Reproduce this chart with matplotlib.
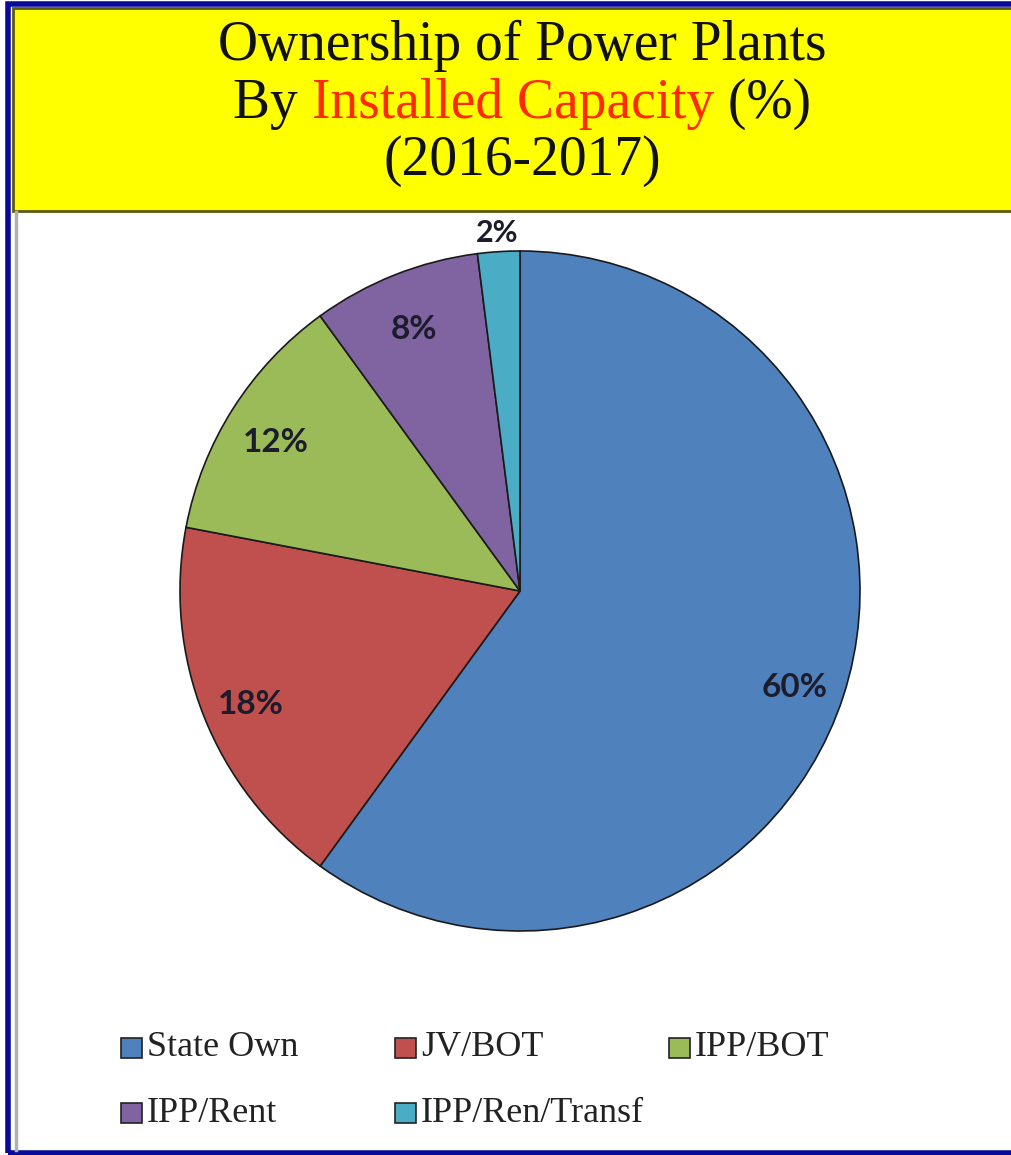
import matplotlib
matplotlib.use("Agg")
import matplotlib.pyplot as plt
import matplotlib.patches as patches
import numpy as np

# Ownership shares by installed capacity, 2016-2017
owners = ['State Own', 'JV/BOT', 'IPP/BOT', 'IPP/Rent', 'IPP/Ren/Transf']
shares = [60, 18, 12, 8, 2]
colors = ['#4F81BD', '#C0504D', '#9BBB59', '#8064A2', '#4BACC6']

W, H = 1011, 1155
fig = plt.figure(figsize=(W / 100, H / 100), dpi=100)
fig.patch.set_facecolor('white')

def fx(px):
    return px / W

def fy(py):
    return 1 - py / H

# frame: blue border on left, top and bottom, grey shadow inside
fig.add_artist(patches.Rectangle((fx(8), fy(1153)), fx(1100), fy(4) - fy(1153),
                                 transform=fig.transFigure, facecolor='none',
                                 edgecolor='#0a0a9a', linewidth=4))
fig.add_artist(plt.Line2D([fx(16), fx(16)], [fy(212), fy(1150)],
                          transform=fig.transFigure, color='#b0b0b0', linewidth=2.5))

# yellow title band
fig.add_artist(patches.Rectangle((fx(13), fy(211)), fx(1010), fy(8) - fy(211),
                                 transform=fig.transFigure, facecolor='#FFFF00',
                                 edgecolor='#5a5a10', linewidth=2))

serif = 'Liberation Serif'
tsize = 40
fig.text(fx(522), fy(46), 'Ownership of Power Plants', ha='center', va='center',
         fontsize=tsize, family=serif, color='#111111')
fig.text(fx(522), fy(161), '(2016-2017)', ha='center', va='center',
         fontsize=tsize, family=serif, color='#111111')

# second title line with the highlighted middle part
parts = [('By ', '#111111'), ('Installed Capacity', '#FF2A00'), (' (%)', '#111111')]
renderer = fig.canvas.get_renderer()
widths = []
for s, c in parts:
    t = fig.text(0, 0, s, fontsize=tsize, family=serif)
    widths.append(t.get_window_extent(renderer).width)
    t.remove()
x = 522 - sum(widths) / 2
for (s, c), w in zip(parts, widths):
    fig.text(fx(x), fy(104), s, ha='left', va='center', fontsize=tsize,
             family=serif, color=c)
    x += w

# pie
cx, cy, r = 520, 591, 340
ax = fig.add_axes([fx(cx - r), fy(cy + r), fx(2 * r), fy(cy - r) - fy(cy + r)])
wedges, _ = ax.pie(shares, colors=colors, startangle=90, counterclock=False,
                   radius=1, wedgeprops=dict(edgecolor='#1a1a1a', linewidth=1.2))
ax.set_xlim(-1, 1)
ax.set_ylim(-1, 1)
ax.set_aspect('equal')
ax.axis('off')

for w, v in zip(wedges, shares):
    mid = np.radians((w.theta1 + w.theta2) / 2)
    d = 1.075 if v < 5 else 0.85
    ax.text(d * np.cos(mid), d * np.sin(mid) - 0.02, f'{v}%', ha='center', va='center',
            fontsize=24 if v >= 5 else 22, family='Lato', fontweight='bold',
            color='#1c1c2c', clip_on=False)

# legend
col_x = [121, 395, 669]
row_y = [1048, 1113]
for i, (name, c) in enumerate(zip(owners, colors)):
    x0 = col_x[i % 3]
    y0 = row_y[i // 3]
    fig.add_artist(patches.Rectangle((fx(x0), fy(y0 + 10)), fx(21), fy(y0 - 10) - fy(y0 + 10),
                                     transform=fig.transFigure, facecolor=c,
                                     edgecolor='#222222', linewidth=1.2))
    fig.text(fx(x0 + 26), fy(y0), name, ha='left', va='center', fontsize=26,
             family=serif, color='#222222')

fig.savefig('out.png', dpi=100)
